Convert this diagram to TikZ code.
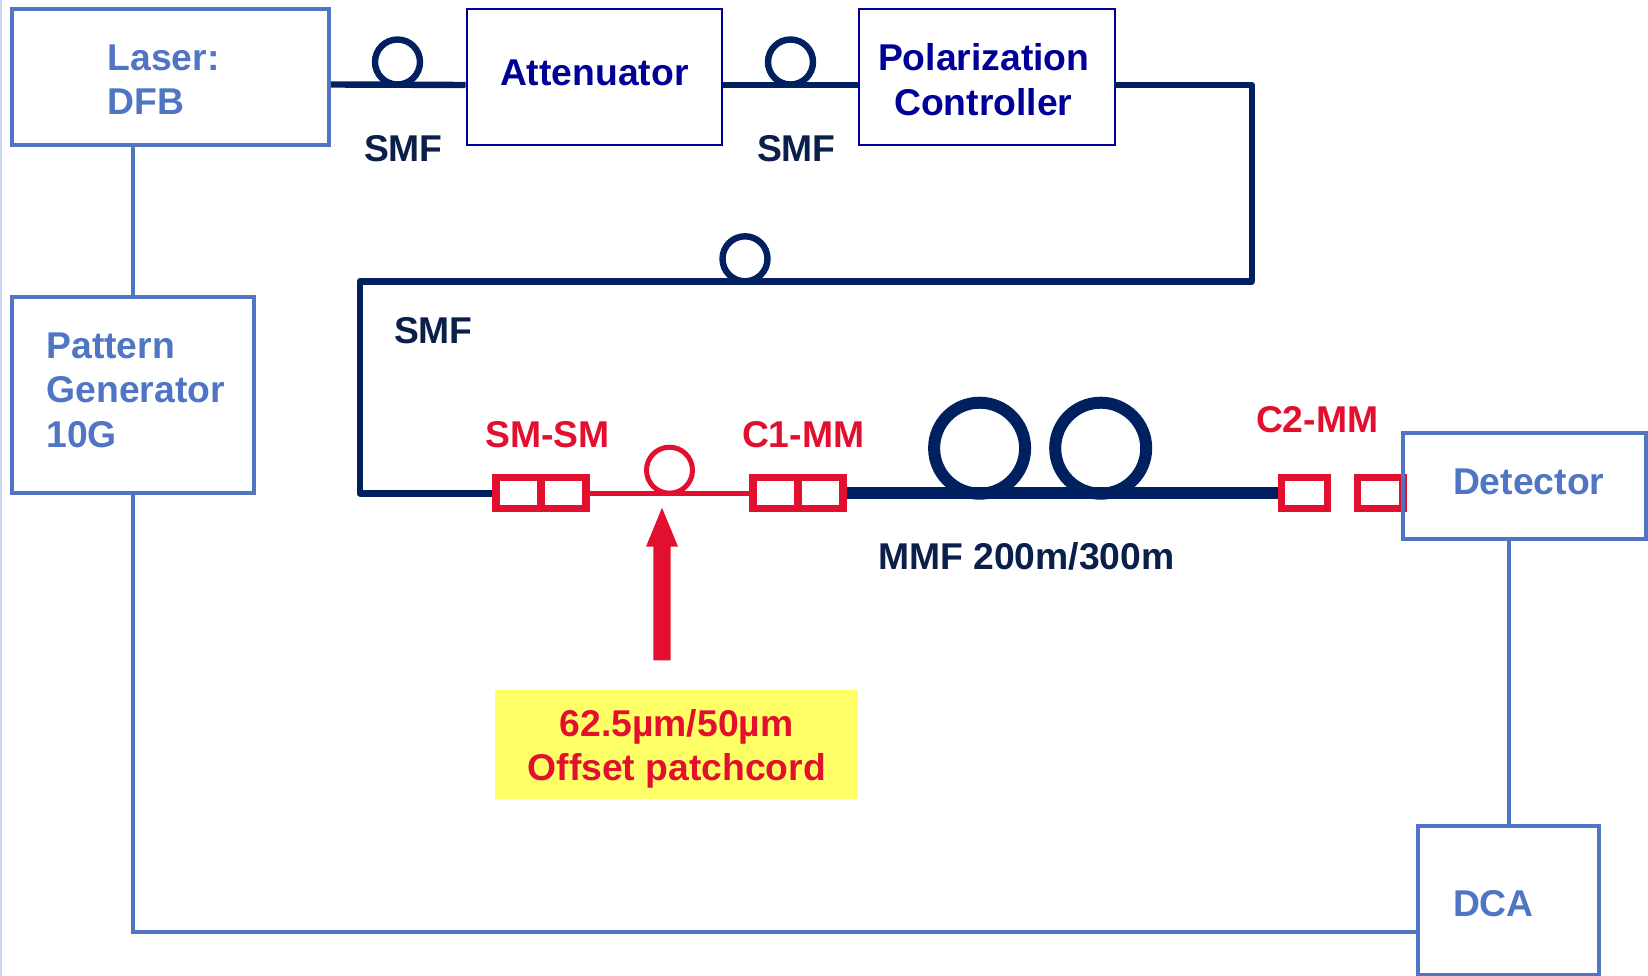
\documentclass[tikz,border=0pt]{standalone}
\usepackage{fontspec}
\setmainfont{Liberation Sans}[BoldFont={Liberation Sans Bold}]
\definecolor{boxblue}{HTML}{4F75C4}
\definecolor{darkbox}{HTML}{000099}
\definecolor{fiber}{HTML}{002060}
\definecolor{smftext}{HTML}{0B1F4B}
\definecolor{redc}{HTML}{E30F2E}
\definecolor{yellowc}{HTML}{FFFF66}
\definecolor{stripe}{HTML}{C9D6EE}
\tikzset{
  x=1pt,y=-1pt,
  txt/.style={inner sep=0pt,outer sep=0pt,anchor=base west,font=\fontsize{37.3}{44.5}\selectfont\bfseries,align=left},
  ctxt/.style={txt,anchor=base,align=center},
  bluebox/.style={draw=boxblue,line width=4pt,inner sep=0pt,rectangle},
  navybox/.style={draw=darkbox,line width=2pt,inner sep=0pt,rectangle},
  conn/.style={draw=redc,line width=7.3pt,inner sep=0pt,rectangle,minimum height=31pt},
  loopn/.style={draw=fiber,line width=6.4pt,circle,inner sep=0pt,outer sep=0pt,minimum size=45pt},
  bigloop/.style={draw=fiber,line width=12pt,circle,inner sep=0pt,outer sep=0pt,minimum size=91pt},
  redloop/.style={draw=redc,line width=5pt,circle,inner sep=0pt,outer sep=0pt,minimum size=46pt},
  bluewire/.style={draw=boxblue,line width=3.8pt},
  navywire/.style={draw=fiber,line width=6.4pt,line join=round},
  mmf/.style={draw=fiber,line width=12pt},
  redwire/.style={draw=redc,line width=5pt},
}
\begin{document}
\begin{tikzpicture}
\useasboundingbox (0,0) rectangle (1648,976);
\fill[white] (0,0) rectangle (1648,976);
\fill[stripe] (0,0) rectangle (2,976);

% blue boxes
\node[bluebox,minimum width=317pt,minimum height=135.5pt] (laser) at (170.5,77) {};
\node[bluebox,minimum width=242pt,minimum height=196pt] (pattern) at (132.8,395) {};
\node[bluebox,minimum width=181.5pt,minimum height=149pt] (dca) at (1508.5,900.5) {};
% navy boxes
\node[navybox,minimum width=255.6pt,minimum height=136pt] (att) at (594.3,77.5) {};
\node[navybox,minimum width=256pt,minimum height=136pt] (pol) at (986.8,77.5) {};

% fibres
\coordinate (bend1) at (1251.7,85);
\coordinate (bend2) at (1251.7,281.3);
\coordinate (bend3) at (359.7,281.3);
\coordinate (bend4) at (359.7,493.3);
\node[loopn] (l1) at (397.5,62) {};
\node[loopn] (l2) at (790.5,62) {};
\node[loopn] (l3) at (745,258.8) {};
\draw[navywire] ([yshift=-7.5pt]laser.east) -- ([yshift=-7.5pt]att.west);
\draw[navywire] ([yshift=-7.5pt]att.east) -- ([yshift=-7.5pt]pol.west);
\draw[navywire] ([yshift=-7.5pt,xshift=-2pt]pol.east) -- (bend1) -- (bend2) -- (bend3) -- (bend4) -- (492,493.3);

% connectors
\node[conn,minimum width=45pt] (sma) at (518.5,493.3) {};
\node[conn,minimum width=45pt] (smb) at (563.5,493.3) {};
\node[conn,minimum width=45pt] (cma) at (775.5,493.3) {};
\node[conn,minimum width=45pt] (cmb) at (820.5,493.3) {};
\node[conn,minimum width=45.5pt] (cca) at (1304.5,493.3) {};
\node[conn,minimum width=45.5pt] (ccb) at (1380.2,493.3) {};

\draw[redwire] (smb.east) -- (cma.west);
\node[redloop] (rl) at (669.5,470.2) {};
\draw[mmf] (cmb.east) -- (cca.west);
\node[bigloop] (b1) at (979.6,448.2) {};
\node[bigloop] (b2) at (1100.7,448.2) {};

% detector over the connector
\node[bluebox,minimum width=243pt,minimum height=105.5pt] (det) at (1524.5,486.2) {};

% blue wires
\coordinate (corner) at (132.8,931.7);
\draw[bluewire] (laser.south -| pattern.north) -- (pattern.north);
\draw[bluewire] (pattern.south) -- (corner) -- (corner -| dca.west);
\draw[bluewire] (det.south -| 1509,0) -- (dca.north -| 1509,0);

% arrow
\fill[redc] (662,507.7) -- (678,546.7) -- (670.7,546.7) -- (670.7,660.3) -- (653.3,660.3) -- (653.3,546.7) -- (646,546.7) -- cycle;

% yellow note
\node[fill=yellowc,inner sep=0pt,minimum width=362.7pt,minimum height=109pt] (note) at (676.3,744.5) {};
\node[ctxt,text=redc] (n1) at (676.6,736.7) {62.5µm/50µm};
\node[ctxt,text=redc] (n2) at (676.8,780) {Offset patchcord};

% texts
\node[txt,text=boxblue] (t1) at (107.5,70.6) {Laser:};
\node[txt,text=boxblue] (t1b) at (107.5,115) {DFB};
\node[txt,text=darkbox] (t2) at (500,85.5) {Attenuator};
\node[ctxt,text=darkbox] (t3) at (983.7,70.8) {Polarization};
\node[ctxt,text=darkbox] (t3b) at (983.3,115.6) {Controller};
\node[txt,text=boxblue] (t4) at (46.5,358) {Pattern};
\node[txt,text=boxblue] (t4b) at (46.5,402.6) {Generator};
\node[txt,text=boxblue] (t4c) at (46.5,447) {10G};
\node[txt,text=smftext] (s1) at (364,161.8) {SMF};
\node[txt,text=smftext] (s2) at (757,161.8) {SMF};
\node[txt,text=smftext] (s3) at (394,343.3) {SMF};
\node[txt,text=redc] (r1) at (485.4,447.6) {SM-SM};
\node[txt,text=redc] (r2) at (742,447.6) {C1-MM};
\node[txt,text=redc] (r3) at (1256,432.7) {C2-MM};
\node[txt,text=smftext] (m) at (878,569) {MMF 200m/300m};
\node[txt,text=boxblue] (t5) at (1453,494) {Detector};
\node[txt,text=boxblue] (t6) at (1453,916.7) {DCA};
\end{tikzpicture}
\end{document}
